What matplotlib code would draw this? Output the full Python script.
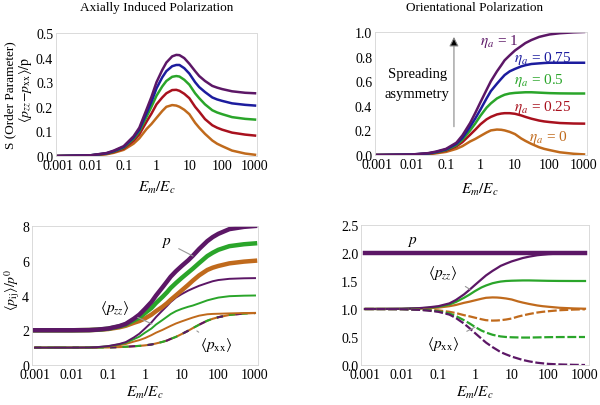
import numpy as np
import matplotlib
matplotlib.use('Agg')
import matplotlib.pyplot as plt

plt.rcParams['font.family'] = 'Liberation Serif'
plt.rcParams['mathtext.fontset'] = 'stix'
plt.rcParams['font.size'] = 10

#%% data
em = [0.001, 0.01, 0.03, 0.05, 0.1, 0.2, 0.3, 0.5, 0.7, 1, 1.5, 2, 3, 4, 5, 7,
      10, 15, 20, 30, 50, 70, 100, 200, 500, 1000]

# axially induced, order parameter
s_ax_1   = [0, 0.003, 0.012, 0.022, 0.040, 0.080, 0.115, 0.190, 0.240, 0.300, 0.350, 0.380, 0.405, 0.411, 0.410, 0.398,
            0.375, 0.345, 0.325, 0.305, 0.285, 0.278, 0.272, 0.263, 0.257, 0.255]
s_ax_075 = [0, 0.003, 0.011, 0.020, 0.037, 0.075, 0.107, 0.175, 0.220, 0.275, 0.320, 0.345, 0.365, 0.370, 0.370, 0.357,
            0.335, 0.300, 0.280, 0.260, 0.238, 0.230, 0.224, 0.214, 0.208, 0.205]
s_ax_05  = [0, 0.003, 0.010, 0.018, 0.034, 0.070, 0.100, 0.160, 0.200, 0.245, 0.283, 0.305, 0.322, 0.325, 0.323, 0.310,
            0.290, 0.255, 0.235, 0.210, 0.186, 0.177, 0.170, 0.158, 0.151, 0.148]
s_ax_025 = [0, 0.002, 0.009, 0.016, 0.030, 0.062, 0.088, 0.140, 0.172, 0.210, 0.238, 0.255, 0.268, 0.269, 0.265, 0.253,
            0.235, 0.200, 0.180, 0.150, 0.125, 0.115, 0.107, 0.095, 0.087, 0.083]
s_ax_0   = [0, 0.002, 0.007, 0.013, 0.025, 0.050, 0.072, 0.110, 0.130, 0.155, 0.183, 0.200, 0.207, 0.205, 0.200, 0.188,
            0.170, 0.135, 0.115, 0.090, 0.063, 0.050, 0.040, 0.022, 0.010, 0.005]

# orientational, order parameter
s_or_1   = [0, 0.004, 0.015, 0.027, 0.050, 0.100, 0.160, 0.260, 0.340, 0.430, 0.530, 0.600, 0.680, 0.730, 0.770, 0.810,
            0.850, 0.885, 0.910, 0.935, 0.960, 0.970, 0.980, 0.990, 0.997, 1.000]
s_or_075 = [0, 0.004, 0.013, 0.024, 0.045, 0.090, 0.140, 0.230, 0.295, 0.370, 0.460, 0.520, 0.580, 0.620, 0.650, 0.680,
            0.700, 0.720, 0.730, 0.740, 0.745, 0.748, 0.750, 0.750, 0.750, 0.750]
s_or_05  = [0, 0.003, 0.012, 0.021, 0.040, 0.080, 0.125, 0.200, 0.255, 0.320, 0.385, 0.420, 0.460, 0.478, 0.490, 0.500,
            0.505, 0.508, 0.510, 0.510, 0.507, 0.505, 0.503, 0.501, 0.500, 0.500]
s_or_025 = [0, 0.003, 0.010, 0.018, 0.035, 0.070, 0.105, 0.165, 0.205, 0.250, 0.290, 0.310, 0.330, 0.337, 0.340, 0.340,
            0.335, 0.322, 0.310, 0.295, 0.280, 0.273, 0.268, 0.260, 0.256, 0.255]
s_or_0   = [0, 0.002, 0.007, 0.013, 0.025, 0.050, 0.072, 0.110, 0.130, 0.155, 0.183, 0.200, 0.207, 0.205, 0.200, 0.188,
            0.170, 0.135, 0.115, 0.090, 0.063, 0.050, 0.040, 0.022, 0.010, 0.005]

# axially induced, components
p_1   = [2, 2.0, 2.01, 2.035, 2.10, 2.24, 2.37, 2.67, 2.90, 3.23, 3.63, 4.00, 4.47, 4.81, 5.08, 5.40,
         5.70, 6.02, 6.28, 6.68, 7.13, 7.36, 7.55, 7.82, 7.95, 8.0]
p_05  = [2, 2.0, 2.01, 2.030, 2.09, 2.22, 2.33, 2.57, 2.73, 2.99, 3.28, 3.57, 3.92, 4.19, 4.43, 4.72,
         5.01, 5.32, 5.54, 5.87, 6.27, 6.46, 6.63, 6.84, 6.95, 7.0]
p_0   = [2, 2.0, 2.01, 2.025, 2.07, 2.17, 2.26, 2.43, 2.53, 2.68, 2.90, 3.10, 3.35, 3.56, 3.75, 4.01,
         4.29, 4.61, 4.85, 5.16, 5.47, 5.60, 5.70, 5.85, 5.95, 6.0]
zz_1  = [1, 1.0, 1.007, 1.03, 1.09, 1.21, 1.32, 1.59, 1.80, 2.10, 2.45, 2.76, 3.14, 3.40, 3.62, 3.88,
         4.08, 4.28, 4.40, 4.56, 4.72, 4.82, 4.89, 4.96, 4.99, 5.0]
zz_05 = [1, 1.0, 1.006, 1.025, 1.08, 1.19, 1.28, 1.49, 1.63, 1.86, 2.10, 2.33, 2.59, 2.78, 2.93, 3.10,
         3.23, 3.35, 3.42, 3.55, 3.72, 3.80, 3.88, 3.96, 3.99, 4.0]
zz_0  = [1, 1.0, 1.005, 1.02, 1.06, 1.14, 1.21, 1.35, 1.43, 1.55, 1.72, 1.86, 2.02, 2.15, 2.25, 2.39,
         2.51, 2.64, 2.73, 2.84, 2.92, 2.94, 2.95, 2.97, 2.99, 3.0]
xx_a  = [1, 1.0, 1.003, 1.005, 1.01, 1.03, 1.05, 1.08, 1.10, 1.13, 1.18, 1.24, 1.33, 1.41, 1.50, 1.62,
         1.78, 1.97, 2.12, 2.32, 2.55, 2.66, 2.75, 2.88, 2.96, 2.99]

# orientational, components
p_or   = [2] * 26
zz_or1 = [1, 1.004, 1.015, 1.027, 1.05, 1.10, 1.16, 1.26, 1.34, 1.43, 1.53, 1.60, 1.68, 1.73, 1.77, 1.81,
          1.85, 1.885, 1.91, 1.935, 1.96, 1.97, 1.98, 1.99, 1.997, 2.0]
xx_or1 = [1, 0.996, 0.985, 0.973, 0.95, 0.90, 0.84, 0.74, 0.66, 0.57, 0.47, 0.40, 0.32, 0.27, 0.23, 0.19,
          0.15, 0.115, 0.09, 0.065, 0.04, 0.03, 0.02, 0.01, 0.003, 0.0]
zz_or5 = [1, 1.003, 1.012, 1.021, 1.04, 1.08, 1.125, 1.20, 1.255, 1.32, 1.385, 1.42, 1.46, 1.478, 1.49, 1.50,
          1.505, 1.508, 1.51, 1.51, 1.507, 1.505, 1.503, 1.501, 1.5, 1.5]
xx_or5 = [1, 0.997, 0.988, 0.979, 0.96, 0.92, 0.875, 0.80, 0.745, 0.68, 0.615, 0.58, 0.54, 0.522, 0.51, 0.50,
          0.495, 0.492, 0.49, 0.49, 0.493, 0.495, 0.497, 0.499, 0.5, 0.5]
zz_or0 = [1, 1.002, 1.007, 1.013, 1.025, 1.05, 1.072, 1.11, 1.13, 1.155, 1.183, 1.20, 1.207, 1.205, 1.20, 1.188,
          1.17, 1.135, 1.115, 1.09, 1.063, 1.05, 1.04, 1.022, 1.01, 1.005]
xx_or0 = [1, 0.998, 0.993, 0.987, 0.975, 0.95, 0.928, 0.89, 0.87, 0.845, 0.817, 0.80, 0.793, 0.795, 0.80, 0.812,
          0.83, 0.865, 0.885, 0.91, 0.937, 0.95, 0.96, 0.978, 0.99, 0.995]

xticks = [0.001, 0.01, 0.1, 1, 10, 100, 1000]
xticklabels = ['0.001', '0.01', '0.1', '1', '10', '100', '1000']

purple = '#5c1766'
blue = '#1c1c9e'
green = '#2aa52a'
red = '#a8111e'
orange = '#c06a1c'

#%% figure
W, H = 600, 406
fig = plt.figure(figsize=(W / 100, H / 100), dpi=100)


def make_ax(x0, x1, y0, y1, d0, d1):
    # pixel box of the frame; d0/d1 are pixel x of 0.001 and 1000
    ax = fig.add_axes([x0 / W, 1 - y1 / H, (x1 - x0) / W, (y1 - y0) / H])
    ax.set_xscale('log')
    ppd = (d1 - d0) / 6.0
    ax.set_xlim(10 ** (-3 - (d0 - x0) / ppd), 10 ** (3 + (x1 - d1) / ppd))
    ax.set_xticks(xticks)
    ax.set_xticklabels(xticklabels)
    ax.minorticks_off()
    ax.tick_params(length=0, pad=2, labelsize=10)
    for s in ax.spines.values():
        s.set_color('#d4d4d4')
        s.set_linewidth(0.6)
        s.set_linestyle((0, (1, 1)))
    return ax


# ---- top left
ax1 = make_ax(56, 257, 34, 157, 58, 255)
for ys, c in [(s_ax_0, orange), (s_ax_025, red), (s_ax_05, green), (s_ax_075, blue), (s_ax_1, purple)]:
    ax1.plot(em, ys, color=c, lw=1.8)
ax1.set_ylim(0, 0.5)
ax1.set_yticks([0, 0.1, 0.2, 0.3, 0.4, 0.5])
ax1.set_yticklabels(['0.0', '0.1', '0.2', '0.3', '0.4', '0.5'])

# ---- top right
ax2 = make_ax(375, 587, 33, 156, 377, 584)
for ys, c in [(s_or_0, orange), (s_or_025, red), (s_or_05, green), (s_or_075, blue), (s_or_1, purple)]:
    ax2.plot(em, ys, color=c, lw=1.8)
ax2.set_ylim(0, 1.0)
ax2.set_yticks([0, 0.2, 0.4, 0.6, 0.8, 1.0])
ax2.set_yticklabels(['0.0', '0.2', '0.4', '0.6', '0.8', '1.0'])
ax2.text(3.4, 0.93, r'$\eta_a$ = 1', color=purple, ha='center', va='center', fontsize=11)
ax2.text(64.6, 0.79, r'$\eta_a$ = 0.75', color=blue, ha='center', va='center', fontsize=11)
ax2.text(49.6, 0.615, r'$\eta_a$ = 0.5', color=green, ha='center', va='center', fontsize=11)
ax2.text(64.6, 0.395, r'$\eta_a$ = 0.25', color=red, ha='center', va='center', fontsize=11)
ax2.text(90.6, 0.15, r'$\eta_a$ = 0', color=orange, ha='center', va='center', fontsize=11)
ax2.annotate('', xy=(0.17, 0.96), xytext=(0.17, 0.23),
             arrowprops=dict(arrowstyle='-|>', color='#888888', lw=0.8,
                             mutation_scale=14, shrinkA=0, shrinkB=0,
                             fc='black', ec='#888888'))
ax2.text(0.0145, 0.66, 'Spreading', ha='center', va='center', fontsize=10.5)
ax2.text(0.0145, 0.50, 'asymmetry', ha='center', va='center', fontsize=10.5)

# ---- bottom left
ax3 = make_ax(32, 258, 227, 366, 35, 255)
ax3.plot(em, xx_a, color=orange, lw=1.5)
ax3.plot(em, xx_a, color=green, lw=1.5, dashes=(3, 3), dash_capstyle='butt')
ax3.plot(em, xx_a, color=purple, lw=1.5, dashes=(3, 3, 0.01, 3), dash_capstyle='butt')
for ys, c in [(zz_0, orange), (zz_05, green), (zz_1, purple)]:
    ax3.plot(em, ys, color=c, lw=1.4)
for ys, c in [(p_0, orange), (p_05, green), (p_1, purple)]:
    ax3.plot(em, ys, color=c, lw=3.2)
ax3.set_ylim(0, 8)
ax3.set_yticks([0, 2, 4, 6, 8])
ax3.annotate(r'$p$', xy=(20.4, 6.27), xytext=(3.7, 7.08), ha='center', va='center', fontsize=11,
             arrowprops=dict(arrowstyle='-', color='#999999', lw=0.8, shrinkA=4, shrinkB=0))
ax3.annotate(r'$\langle p_{zz}\rangle$', xy=(1.55, 2.36), xytext=(0.152, 3.34), ha='center', va='center', fontsize=11,
             arrowprops=dict(arrowstyle='-', color='#999999', lw=0.8, shrinkA=4, shrinkB=0))
ax3.annotate(r'$\langle p_{\mathrm{xx}}\rangle$', xy=(26, 1.96), xytext=(86, 1.21), ha='center', va='center', fontsize=11,
             arrowprops=dict(arrowstyle='-', color='#999999', lw=0.8, shrinkA=4, shrinkB=0))

# ---- bottom right
ax4 = make_ax(361, 589, 226, 366, 365, 585)
for ys, c in [(zz_or0, orange), (zz_or5, green), (zz_or1, purple)]:
    ax4.plot(em, ys, color=c, lw=1.6)
for ys, c in [(xx_or0, orange), (xx_or5, green), (xx_or1, purple)]:
    ax4.plot(em, ys, color=c, lw=1.6, dashes=(4, 1.2))
ax4.plot(em, p_or, color=purple, lw=3.2)
ax4.set_ylim(0, 2.5)
ax4.set_yticks([0, 0.5, 1.0, 1.5, 2.0, 2.5])
ax4.set_yticklabels(['0.0', '0.5', '1.0', '1.5', '2.0', '2.5'])
ax4.text(0.019, 2.21, r'$p$', ha='center', va='center', fontsize=11)
ax4.annotate(r'$\langle p_{zz}\rangle$', xy=(0.73, 1.35), xytext=(0.134, 1.655), ha='center', va='center', fontsize=11,
             arrowprops=dict(arrowstyle='-', color='#999999', lw=0.8, shrinkA=4, shrinkB=0))
ax4.annotate(r'$\langle p_{\mathrm{xx}}\rangle$', xy=(1.0, 0.675), xytext=(0.134, 0.39), ha='center', va='center', fontsize=11,
             arrowprops=dict(arrowstyle='-', color='#999999', lw=0.8, shrinkA=4, shrinkB=0))

#%% figure texts
fig.text(157 / W, 1 - 8 / H, 'Axially Induced Polarization', ha='center', va='center', fontsize=9.5)
fig.text(475 / W, 1 - 8 / H, 'Orientational Polarization', ha='center', va='center', fontsize=9.5)
for x, y in [(157, 188), (480, 190), (145, 393), (475, 393)]:
    fig.text(x / W, 1 - y / H, r'$E_m/E_c$', ha='center', va='center', fontsize=11)
fig.text(10 / W, 1 - 95 / H, 'S (Order Parameter)', rotation=90, ha='center', va='center', fontsize=9.5)
fig.text(26 / W, 1 - 90 / H, r'$\langle p_{zz}\!-\!p_{\mathrm{xx}}\rangle/\mathrm{p}$', rotation=90,
         ha='center', va='center', fontsize=10)
fig.text(12 / W, 1 - 290 / H, r'$\langle p_{\mathrm{ij}}\rangle/p^0$', rotation=90, ha='center', va='center', fontsize=10)

fig.savefig('out.png', dpi=100)
